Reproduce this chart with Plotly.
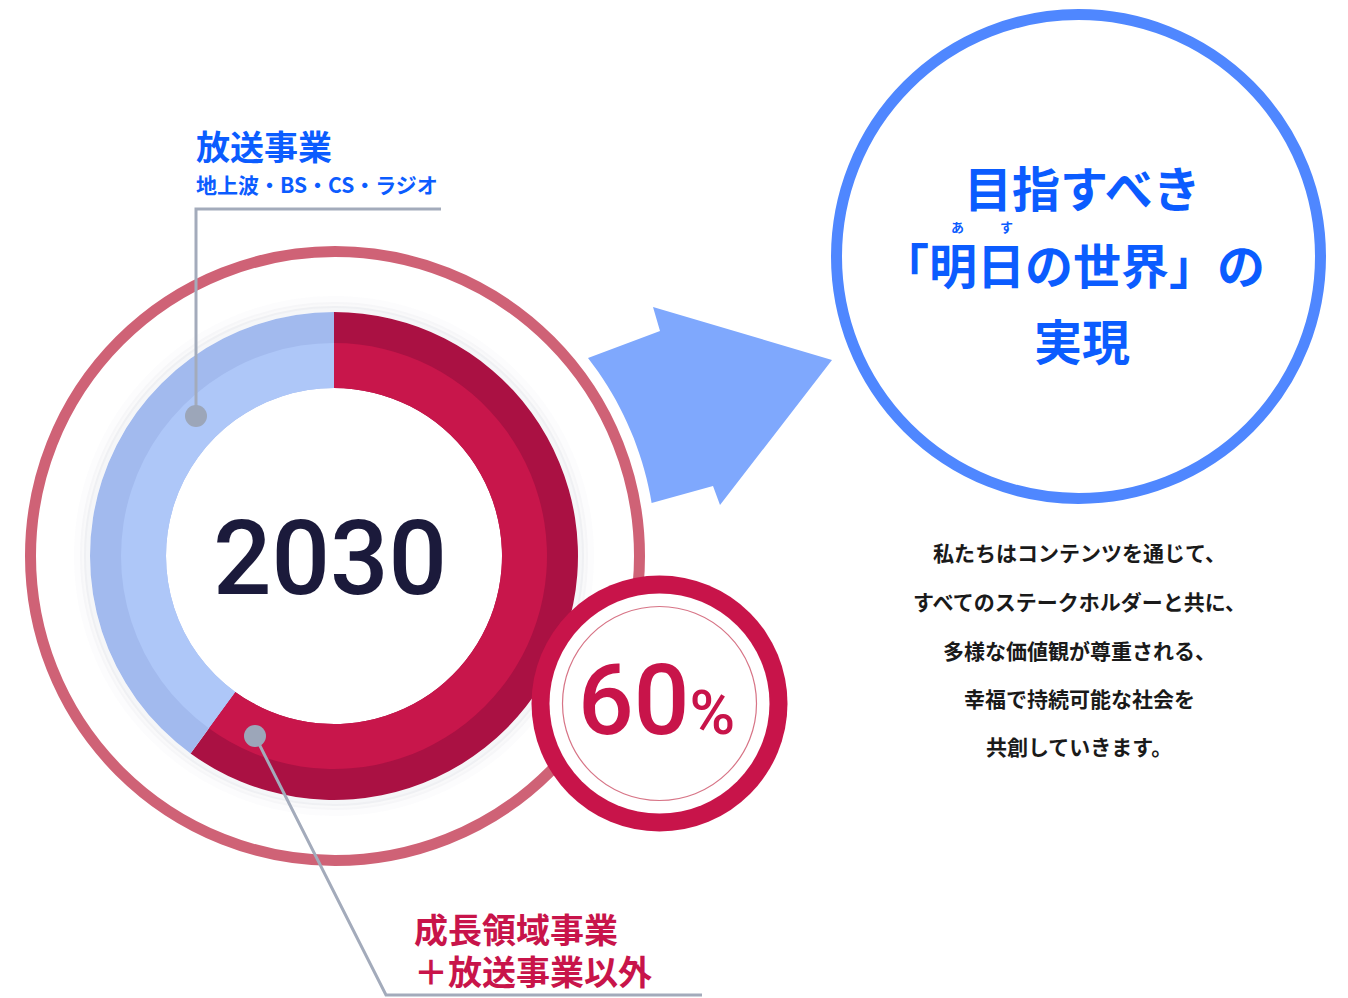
import numpy as np
import plotly.graph_objects as go

W, H = 1348, 998

# ---- data ----
segments = ["成長領域事業＋放送事業以外", "放送事業"]
shares = [60, 40]
year_label = "2030"
share_label = "60"
top_label = ["放送事業", "地上波・BS・CS・ラジオ"]
bottom_label = ["成長領域事業", "＋放送事業以外"]
goal_lines = ["目指すべき", "「明日の世界」の", "実現"]
goal_x = [1082, 1073, 1082]
goal_y = [186, 263, 339]
furigana = [("あ", 957), ("す", 1006)]
message_lines = [
    "私たちはコンテンツを通じて、",
    "すべてのステークホルダーと共に、",
    "多様な価値観が尊重される、",
    "幸福で持続可能な社会を",
    "共創していきます。",
]

# ---- styling / geometry ----
CX, CY = 334, 556
R_OUT, R_MID, R_IN = 244, 213, 168
RED, RED_DARK = "#C8164B", "#AA1143"
BLUE, BLUE_DARK = "#AEC7F8", "#A2BAEE"
PINK = "#CF6276"
JP = "Noto Sans CJK JP"


def dom(r):
    return dict(x=[(CX - r) / W, (CX + r) / W], y=[1 - (CY + r) / H, 1 - (CY - r) / H])


fig = go.Figure()
for r, cols in [(R_OUT, [RED_DARK, BLUE_DARK]), (R_MID, [RED, BLUE])]:
    fig.add_trace(go.Pie(
        labels=segments, values=shares, sort=False, direction="clockwise", rotation=0,
        hole=R_IN / r, domain=dom(r), textinfo="none", hoverinfo="skip",
        marker=dict(colors=cols, line=dict(width=0)), showlegend=False,
    ))

shapes = []


def circ(cx, cy, r, **kw):
    d = dict(type="circle", xref="x", yref="y", x0=cx - r, x1=cx + r, y0=cy - r, y1=cy + r)
    d.update(kw)
    return d


# soft shadow around donut
for dr, w, a in [(3, 6, 0.06), (7, 6, 0.04), (12, 8, 0.02)]:
    shapes.append(circ(CX, CY, R_OUT + dr, line=dict(color=f"rgba(90,100,130,{a})", width=w), layer="below"))

# outer pink ring
shapes.append(circ(335, 556, 304.5, line=dict(color=PINK, width=11), layer="below"))

# arrow
R_ARC = 322
a1 = np.arctan2(503 - CY, 651 - CX)
a2 = np.arctan2(358 - CY, 588 - CX)
angs = np.linspace(a1, a2, 20)
pts = [(CX + R_ARC * np.cos(t), CY + R_ARC * np.sin(t)) for t in angs]
pts += [(660, 331), (653, 307), (832, 360), (720, 505), (713, 486)]
path = "M " + " L ".join(f"{x:.1f},{y:.1f}" for x, y in pts) + " Z"
shapes.append(dict(type="path", xref="x", yref="y", path=path, fillcolor="#7FA8FD",
                   line=dict(width=0), layer="below"))

# big blue circle
shapes.append(circ(1078.5, 256.5, 242, line=dict(color="#4F87FF", width=11), layer="below"))

# 60% badge
shapes.append(circ(659.5, 703.5, 128, fillcolor="#C8144A", line=dict(width=0), layer="above"))
shapes.append(circ(659.5, 703.5, 110, fillcolor="white", line=dict(width=0), layer="above"))
shapes.append(circ(659.5, 703.5, 97, line=dict(color="#D77486", width=1.2), layer="above"))

# leader lines
GRAY = "#A3ABBB"
shapes.append(dict(type="path", xref="x", yref="y", path="M 441,209 L 196,209 L 196,416",
                   line=dict(color=GRAY, width=3), layer="above"))
shapes.append(dict(type="path", xref="x", yref="y", path="M 255,736 L 386,995 L 702,995",
                   line=dict(color=GRAY, width=3), layer="above"))
shapes.append(circ(196, 416, 11, fillcolor="#9CA6B9", line=dict(width=0), layer="above"))
shapes.append(circ(255, 736, 11, fillcolor="#9CA6B9", line=dict(width=0), layer="above"))

ann = []


def txt(x, y, s, size, color, family=JP, weight="bold", xanchor="center"):
    ann.append(dict(x=x, y=y, xref="x", yref="y", text=s, showarrow=False, xanchor=xanchor,
                    yanchor="middle", font=dict(family=family, size=size, color=color, weight=weight)))


txt(330, 558, year_label, 103, "#1B1A3B", family="Roboto", weight=500)
txt(656, 700, share_label + "<span style='font-size:62px'>%</span>", 98, "#C8144A",
    family="Roboto", weight=500)

BL = "#0B5CFF"
txt(194, 145, top_label[0], 34, BL, xanchor="left")
txt(194, 184, top_label[1], 21, BL, xanchor="left")
CR = "#C8144A"
txt(412, 928, bottom_label[0], 34, CR, xanchor="left")
txt(412, 970, bottom_label[1], 34, CR, xanchor="left")

for s, x, y in zip(goal_lines, goal_x, goal_y):
    txt(x, y, s, 48, BL)
for s, x in furigana:
    txt(x, 226, s, 13, BL)

for s, y in zip(message_lines, [552, 601, 650, 698, 746]):
    txt(1079, y, s, 21, "#1A1A1A")

fig.update_layout(
    width=W, height=H, margin=dict(l=0, r=0, t=0, b=0),
    paper_bgcolor="white", plot_bgcolor="rgba(0,0,0,0)",
    xaxis=dict(range=[0, W], visible=False, fixedrange=True),
    yaxis=dict(range=[H, 0], visible=False, fixedrange=True),
    shapes=shapes, annotations=ann, showlegend=False,
)

fig.write_html("out.html", config={"displayModeBar": False},
               post_script="document.body.style.margin='0';document.body.style.overflow='hidden';")
